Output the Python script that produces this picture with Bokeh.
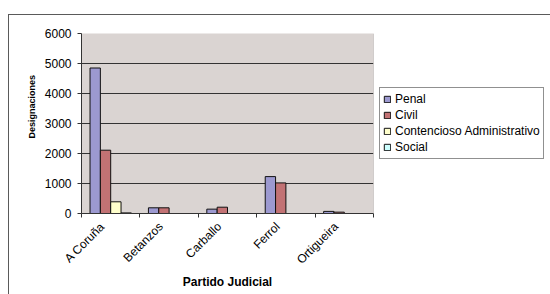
import math
from bokeh.plotting import figure
from bokeh.models import (ColumnDataSource, Range1d, FixedTicker, Legend, LegendItem, Span, Title)
from bokeh.embed import file_html
from bokeh.resources import INLINE

# ---- data ----
partidos = ["A Coruña", "Betanzos", "Carballo", "Ferrol", "Ortigueira"]
penal = [4850, 190, 145, 1230, 70]
civil = [2110, 190, 210, 1020, 45]
contencioso = [390, 0, 0, 0, 0]
social = [20, 0, 0, 0, 0]
series_names = ["Penal", "Civil", "Contencioso Administrativo", "Social"]
series_values = [penal, civil, contencioso, social]
colors = ["#9C99D0", "#C27274", "#FFFFCC", "#CCFFFF"]
y_ticks = [0, 1000, 2000, 3000, 4000, 5000, 6000]

FONT = "Liberation Sans"
bar_w = 0.177
label_shift = -0.14   # rotated labels sit a little left of the category centre

p = figure(frame_width=292, frame_height=180, output_backend="svg", toolbar_location=None,
           x_range=Range1d(0, len(partidos)), y_range=Range1d(0, 6000),
           min_border_left=72, min_border_right=177, min_border_top=18,
           min_border_bottom=81, background_fill_color="#DAD4D2",
           border_fill_color="white", outline_line_color=None)
p.styles = {"margin-left": "8px", "margin-top": "14px",
            "border-left": "1px solid #5A5A5A", "border-top": "1px solid #5A5A5A"}

renderers = []
for k, (name, vals, col) in enumerate(zip(series_names, series_values, colors)):
    off = (k - 1.5) * bar_w
    xs = [i + 0.5 + off for i in range(len(partidos))]
    src = ColumnDataSource(dict(x=xs, top=vals))
    r = p.vbar(x="x", top="top", width=bar_w, source=src, fill_color=col,
               line_color="#111111", line_width=1)
    renderers.append((name, r))

# y axis
p.yaxis.ticker = FixedTicker(ticks=y_ticks)
p.yaxis.major_label_text_font = FONT
p.yaxis.major_label_text_font_size = "12px"
p.yaxis.major_label_text_color = "black"
p.yaxis.axis_line_color = "#333333"
p.yaxis.major_tick_line_color = "#333333"
p.yaxis.major_tick_out = 4
p.yaxis.major_tick_in = 0
p.yaxis.minor_tick_line_color = None
p.yaxis.major_label_standoff = 6

p.add_layout(Title(text="Designaciones", align="left", offset=75,
                   text_font=FONT, text_font_style="bold", text_font_size="9px",
                   text_color="black", standoff=9), "left")

# x axis
centers = [i + 0.5 + label_shift for i in range(len(partidos))]
bounds = list(range(len(partidos) + 1))
p.xaxis.ticker = FixedTicker(ticks=centers, minor_ticks=bounds)
p.xaxis.major_label_overrides = {c: n for c, n in zip(centers, partidos)}
p.xaxis.major_label_orientation = math.pi / 4
p.xaxis.major_label_text_font = FONT
p.xaxis.major_label_text_font_size = "12px"
p.xaxis.major_label_text_color = "black"
p.xaxis.major_tick_line_color = None
p.xaxis.minor_tick_line_color = "#333333"
p.xaxis.minor_tick_out = 4
p.xaxis.minor_tick_in = 0
p.xaxis.axis_line_color = "#333333"
p.xaxis.axis_label = "Partido Judicial"
p.xaxis.axis_label_text_font = FONT
p.xaxis.axis_label_text_font_style = "bold"
p.xaxis.axis_label_text_font_size = "12px"
p.xaxis.axis_label_text_color = "black"
p.xaxis.axis_label_standoff = 0
p.xaxis.major_label_standoff = 5

p.xgrid.grid_line_color = None
p.ygrid.ticker = FixedTicker(ticks=[1000, 2000, 3000, 4000, 5000])
p.ygrid.grid_line_color = "#333333"
p.ygrid.grid_line_width = 1

p.add_layout(Span(location=len(partidos), dimension="height", line_color="#B4B0AE", line_width=1))

legend = Legend(items=[LegendItem(label=n, renderers=[r]) for n, r in renderers],
                location="center_left", label_text_font=FONT, label_text_font_size="12px",
                label_text_color="black",
                glyph_width=8, glyph_height=8, label_standoff=4, label_height=16,
                spacing=0, padding=3, margin=6, border_line_color="#222222",
                border_line_width=1, background_fill_color="white",
                background_fill_alpha=1)
p.add_layout(legend, "right")

open("out.html", "w").write(file_html(p, INLINE))
